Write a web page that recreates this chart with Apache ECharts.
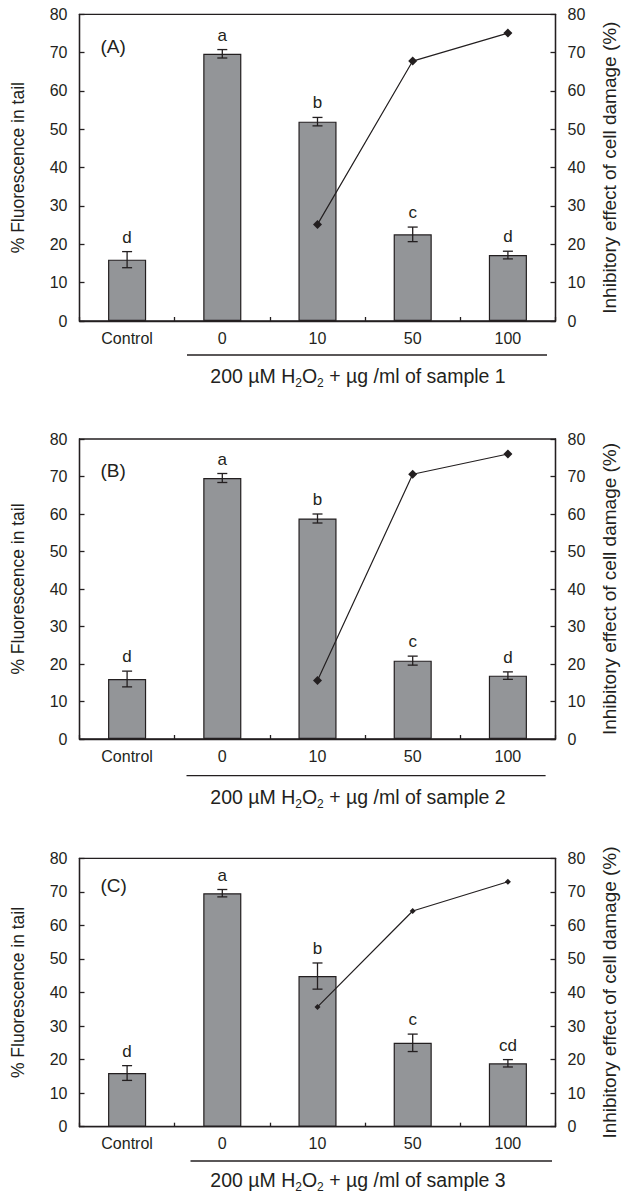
<!DOCTYPE html>
<html>
<head>
<meta charset="utf-8">
<script src="https://cdn.jsdelivr.net/npm/echarts@6/dist/echarts.min.js"></script>
<style>
html,body{margin:0;padding:0;background:#fff;}
#chart{width:622px;height:1193px;}
</style>
</head>
<body>
<div id="chart"></div>
<script>
// ---- data ----
const categories = ['Control', '0', '10', '50', '100'];
const yTickMin = 0, yTickMax = 80, yTickStep = 10;

const barsA = [16.0, 69.7, 52.0, 22.6, 17.2];
const errA  = [2.1, 1.1, 1.1, 1.9, 1.0];
const letA  = ['d', 'a', 'b', 'c', 'd'];
const lineA = [null, null, 25.2, 67.8, 75.1];

const barsB = [16.0, 69.6, 58.8, 20.9, 16.9];
const errB  = [2.1, 1.2, 1.2, 1.2, 1.0];
const letB  = ['d', 'a', 'b', 'c', 'd'];
const lineB = [null, null, 15.6, 70.6, 76.0];

const barsC = [16.0, 69.6, 44.9, 25.0, 18.9];
const errC  = [2.2, 1.1, 3.9, 2.6, 1.1];
const letC  = ['d', 'a', 'b', 'c', 'cd'];
const lineC = [null, null, 35.7, 64.3, 73.0];

const panelLabels = ['(A)', '(B)', '(C)'];
const sampleNames = ['sample 1', 'sample 2', 'sample 3'];
const leftTitle = '% Fluorescence in tail';
const rightTitle = 'Inhibitory effect of cell damage (%)';

// ---- layout ----
const FONT = '"Liberation Sans", Arial, sans-serif';
const INK = '#231f20';
const BAR = '#939598';
const panels = [
  {top: 14.3, height: 306.7, bars: barsA, err: errA, let: letA, line: lineA, sym: 9, lineY: 355, lx1: 187, lx2: 547, subY: 376, labY: 46},
  {top: 439, height: 300, bars: barsB, err: errB, let: letB, line: lineB, sym: 9, lineY: 775.7, lx1: 186.5, lx2: 545.6, subY: 796.5, labY: 470},
  {top: 858.3, height: 268.4, bars: barsC, err: errC, let: letC, line: lineC, sym: 6, lineY: 1161, lx1: 190.5, lx2: 552, subY: 1179.5, labY: 885}
];
const gridLeft = 79.5, gridRight = 66.5;

const chart = echarts.init(document.getElementById('chart'), null, {renderer: 'svg'});

const grid = [], xAxis = [], yAxis = [], series = [], graphic = [];
const axisLineStyle = {color: INK, width: 1.3};
const labelStyle = {color: INK, fontSize: 16, fontFamily: FONT};

panels.forEach((p, gi) => {
  grid.push({left: gridLeft, right: gridRight, top: p.top, height: p.height,
    outerBoundsMode: 'none', containLabel: false,
    show: true, borderColor: INK, borderWidth: 1.3, backgroundColor: 'transparent'});
  xAxis.push({type: 'category', gridIndex: gi, data: categories, boundaryGap: true,
    axisLine: {lineStyle: axisLineStyle},
    axisTick: {show: true, inside: true, length: 4, lineStyle: axisLineStyle},
    axisLabel: Object.assign({margin: 9}, labelStyle),
    splitLine: {show: false}});
  yAxis.push({type: 'value', gridIndex: gi, position: 'left', min: yTickMin, max: yTickMax, interval: yTickStep,
    axisLine: {show: true, lineStyle: axisLineStyle},
    axisTick: {show: true, inside: true, length: 5, lineStyle: axisLineStyle},
    axisLabel: Object.assign({margin: 12}, labelStyle),
    splitLine: {show: false},
    name: leftTitle, nameLocation: 'middle', nameRotate: 90, nameGap: 53,
    nameTextStyle: {color: INK, fontSize: 17.5, fontFamily: FONT}});
  yAxis.push({type: 'value', gridIndex: gi, position: 'right', min: yTickMin, max: yTickMax, interval: yTickStep,
    axisLine: {show: true, lineStyle: axisLineStyle},
    axisTick: {show: true, inside: true, length: 5, lineStyle: axisLineStyle},
    axisLabel: Object.assign({margin: 12}, labelStyle),
    splitLine: {show: false},
    name: rightTitle, nameLocation: 'middle', nameRotate: 90, nameGap: 44,
    nameTextStyle: {color: INK, fontSize: 19, fontFamily: FONT}});

  series.push({type: 'bar', xAxisIndex: gi, yAxisIndex: gi * 2, data: p.bars, barWidth: '40%',
    itemStyle: {color: BAR, borderColor: INK, borderWidth: 1.2}, z: 2, silent: true});

  const errs = p.err, lets = p.let;
  series.push({type: 'custom', xAxisIndex: gi, yAxisIndex: gi * 2, z: 4, silent: true,
    data: p.bars.map((v, i) => [i, v]),
    encode: {x: 0, y: 1},
    renderItem: function (params, api) {
      const i = params.dataIndex;
      const v = api.value(1);
      const hi = api.coord([i, v + errs[i]]);
      const lo = api.coord([i, v - errs[i]]);
      const x = hi[0], w = 5;
      const st = {stroke: INK, lineWidth: 1.3};
      return {type: 'group', children: [
        {type: 'line', shape: {x1: x, y1: hi[1], x2: x, y2: lo[1]}, style: st},
        {type: 'line', shape: {x1: x - w, y1: hi[1], x2: x + w, y2: hi[1]}, style: st},
        {type: 'line', shape: {x1: x - w, y1: lo[1], x2: x + w, y2: lo[1]}, style: st},
        {type: 'text', x: x, y: hi[1] - 6, style: {text: lets[i], fill: INK,
          font: '17px ' + FONT, textAlign: 'center', textVerticalAlign: 'bottom'}}
      ]};
    }});

  series.push({type: 'line', xAxisIndex: gi, yAxisIndex: gi * 2 + 1, data: p.line, z: 6, silent: true,
    symbol: 'diamond', symbolSize: p.sym, showSymbol: true,
    lineStyle: {color: INK, width: 1.2}, itemStyle: {color: INK}});

  graphic.push({type: 'line', shape: {x1: p.lx1, y1: p.lineY, x2: p.lx2, y2: p.lineY},
    style: {stroke: INK, lineWidth: 1.3}});
  graphic.push({type: 'text', x: 358, y: p.subY, style: {
    text: '{n|200 µM H}{s|2}{n|O}{s|2}{n| + µg /ml of ' + sampleNames[gi] + '}',
    textAlign: 'center', textVerticalAlign: 'middle', fill: INK,
    rich: {
      n: {fontSize: 19.5, fontFamily: FONT, color: INK, lineHeight: 22, verticalAlign: 'middle'},
      s: {fontSize: 12, fontFamily: FONT, color: INK, lineHeight: 26, verticalAlign: 'bottom'}
    }}});
  graphic.push({type: 'text', x: 100.5, y: p.labY, style: {text: panelLabels[gi], fill: INK,
    font: '19px ' + FONT, textAlign: 'left', textVerticalAlign: 'middle'}});
});

chart.setOption({animation: false, backgroundColor: '#fff', grid, xAxis, yAxis, series, graphic});
</script>
</body>
</html>
